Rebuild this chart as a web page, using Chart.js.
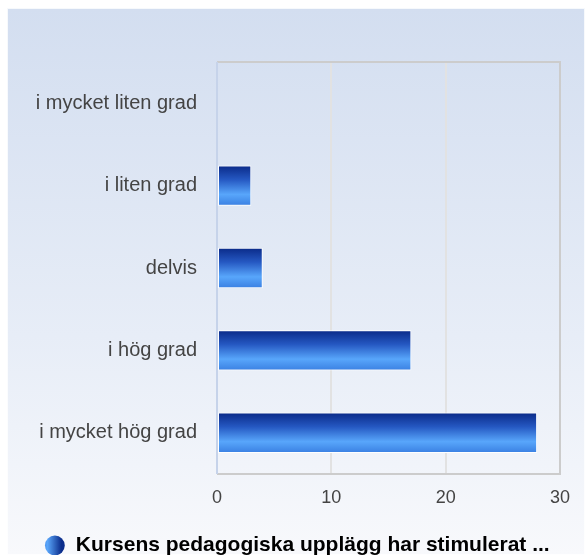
<!DOCTYPE html>
<html>
<head>
<meta charset="utf-8">
<script src="https://cdn.jsdelivr.net/npm/chart.js@4"></script>
<style>
html,body{margin:0;padding:0;background:#fff;}
#wrap{width:585px;height:555px;}
</style>
</head>
<body>
<div id="wrap"><canvas id="chart" width="585" height="555"></canvas></div>
<script>
const categories=["i mycket liten grad","i liten grad","delvis","i hög grad","i mycket hög grad"];
const values=[0,3,4,17,28];
const xTicks=[0,10,20,30];
const seriesName="Kursens pedagogiska upplägg har stimulerat ...";

const FONT="'Liberation Sans', Arial, sans-serif";

// gradient for each bar, top dark navy to light blue
function barGradient(context){
    const chart=context.chart;
    const yScale=chart.scales.y;
    if(!chart.chartArea||!yScale) return '#2a64d0';
    const el=context.element;
    let top,bottom;
    if(el && el.height){
        top=el.y-el.height/2;
        bottom=el.y+el.height/2;
    }else{
        const c=yScale.getPixelForValue(context.dataIndex);
        top=c-20;bottom=c+20;
    }
    const g=chart.ctx.createLinearGradient(0,top,0,bottom);
    g.addColorStop(0,'#0a2a88');
    g.addColorStop(0.35,'#2558c2');
    g.addColorStop(0.72,'#58a6fb');
    g.addColorStop(1,'#3a80e2');
    return g;
}

const backdrop={
    id:'backdrop',
    afterLayout(chart){
        // nudge the legend to where the original sits
        const lg=chart.legend;
        lg.left+=17;lg.right+=17;
        lg.top+=11;lg.bottom+=11;
    },
    beforeDraw(chart){
        const ctx=chart.ctx;
        ctx.save();
        ctx.fillStyle='#ffffff';
        ctx.fillRect(0,0,chart.width,chart.height);
        const g=ctx.createLinearGradient(0,8,0,chart.height);
        g.addColorStop(0,'#d3def0');
        g.addColorStop(0.6,'#e7edf7');
        g.addColorStop(1,'#f8f9fc');
        ctx.fillStyle=g;
        ctx.fillRect(7,8,chart.width-7,chart.height-8);
        ctx.strokeStyle='rgba(255,255,255,0.8)';
        ctx.lineWidth=1;
        ctx.strokeRect(7.5,8.5,chart.width-8,chart.height-9);
        ctx.restore();

        // legend dot: light on the left, dark on the right
        const lg=chart.legend;
        if(lg && lg.legendHitBoxes && lg.legendHitBoxes[0] && lg.legendItems[0]){
            const hb=lg.legendHitBoxes[0];
            const cx=hb.left+7;
            const lgGrad=ctx.createLinearGradient(cx-10,0,cx+10,0);
            lgGrad.addColorStop(0,'#3a7ee0');
            lgGrad.addColorStop(0.3,'#5aa6fa');
            lgGrad.addColorStop(1,'#0b2d8c');
            lg.legendItems[0].fillStyle=lgGrad;
        }
    },
    afterDatasetsDraw(chart){
        const a=chart.chartArea;
        const ctx=chart.ctx;
        ctx.save();
        ctx.strokeStyle='#cccccc';
        ctx.lineWidth=2;
        ctx.beginPath();
        ctx.moveTo(a.left,a.top);
        ctx.lineTo(a.right,a.top);
        ctx.lineTo(a.right,a.bottom);
        ctx.lineTo(a.left,a.bottom);
        ctx.stroke();
        ctx.strokeStyle='#c6d3ea';
        ctx.beginPath();
        ctx.moveTo(a.left,a.top);
        ctx.lineTo(a.left,a.bottom);
        ctx.stroke();
        ctx.restore();
    }
};

new Chart(document.getElementById('chart'),{
    type:'bar',
    data:{
        labels:categories,
        datasets:[{
            label:seriesName,
            data:values,
            backgroundColor:barGradient,
            borderColor:'#ffffff',
            borderWidth:1,
            borderSkipped:false,
            categoryPercentage:1,
            barPercentage:0.49
        }]
    },
    options:{
        indexAxis:'y',
        responsive:false,
        animation:false,
        layout:{padding:{top:62,right:25,left:0,bottom:0}},
        scales:{
            x:{
                min:0,max:30,
                afterBuildTicks(scale){ scale.ticks=xTicks.map(v=>({value:v})); },
                afterFit(scale){ scale.height=42; },
                grid:{color:'#e2e2e2',lineWidth:2,drawTicks:false},
                border:{display:false},
                ticks:{color:'#444',font:{family:FONT,size:18},padding:13}
            },
            y:{
                afterFit(scale){ scale.width=217; },
                grid:{display:false,drawTicks:false},
                border:{display:false},
                ticks:{color:'#444',font:{family:FONT,size:20},padding:20}
            }
        },
        plugins:{
            legend:{
                position:'bottom',
                labels:{
                    usePointStyle:true,
                    pointStyle:'circle',
                    boxHeight:14,
                    color:'#222',
                    font:{family:FONT,size:21,weight:'bold'},
                    padding:8,
                    generateLabels(chart){
                        return [{
                            text:seriesName,
                            fillStyle:'#2a64d0',
                            strokeStyle:'rgba(0,0,0,0)',
                            lineWidth:0,
                            pointStyle:'circle',
                            datasetIndex:0,
                            hidden:false
                        }];
                    }
                }
            },
            tooltip:{enabled:false}
        }
    },
    plugins:[backdrop]
});
</script>
</body>
</html>
